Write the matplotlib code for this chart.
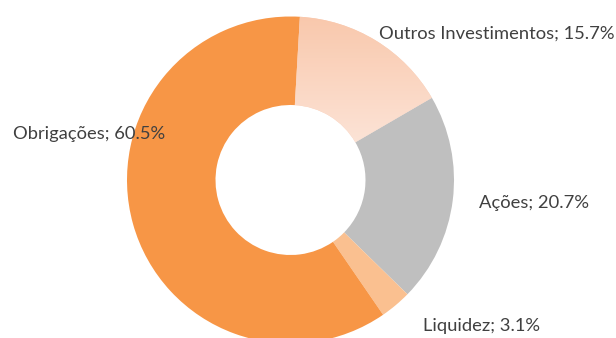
import numpy as np
import matplotlib
matplotlib.use("Agg")
import matplotlib.pyplot as plt
from matplotlib.colors import LinearSegmentedColormap

# allocation by asset class, clockwise from the top
categories = ["Outros Investimentos", "Ações", "Liquidez", "Obrigações"]
shares = [15.7, 20.7, 3.1, 60.5]
colors = ["#FAD1BC", "#BFBFBF", "#FAC090", "#F79646"]

W, H = 616, 338
fig = plt.figure(figsize=(W / 100, H / 100), dpi=100)
ax = fig.add_axes([0, 0, 1, 1])
ax.set_aspect("equal")
ax.axis("off")

cx, cy, r_out, r_in = 290.5, H - 180, 163.5, 75
wedges, _ = ax.pie(shares, colors=colors, startangle=86.7, counterclock=False,
                   center=(cx, cy), radius=r_out,
                   wedgeprops=dict(width=r_out - r_in, linewidth=0))

# vertical gradient fill for the "Outros" slice
grad = LinearSegmentedColormap.from_list("peach", ["#FCE3D6", "#F9C8AC"])
w0 = wedges[0]
bb = w0.get_path().get_extents()
img = ax.imshow(np.linspace(0, 1, 256).reshape(-1, 1), cmap=grad, origin="lower",
                extent=[bb.x0, bb.x1, bb.y0, bb.y1], aspect="auto",
                zorder=w0.get_zorder() + 0.1)
img.set_clip_path(w0)
ax.set_xlim(0, W)
ax.set_ylim(0, H)

label_pos = [(496.5, H - 34), (534, H - 203), (481.5, H - 326), (89, H - 134)]
for cat, val, (x, y) in zip(categories, shares, label_pos):
    ax.text(x, y, f"{cat}; {val:.1f}%", ha="center", va="center",
            fontsize=13.2, color="#404040", family="Lato")

fig.savefig("out.png", dpi=100)
